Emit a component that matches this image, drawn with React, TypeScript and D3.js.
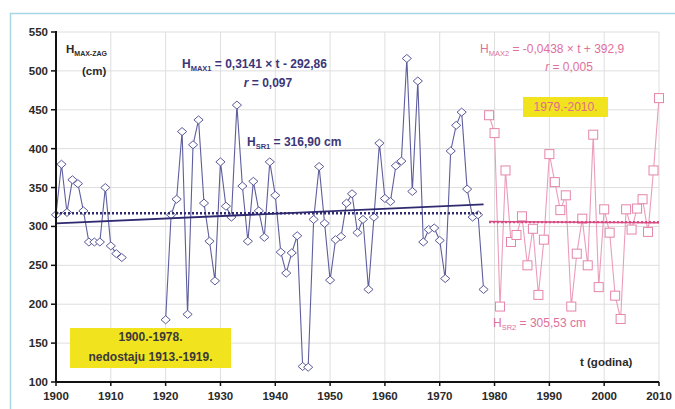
import React from "react";
import * as d3 from "d3";

// Annual maximum water levels at Zagreb (cm)
const yearsEarly = [1900, 1901, 1902, 1903, 1904, 1905, 1906, 1907, 1908, 1909, 1910, 1911, 1912];
const levelsEarly = [315, 380, 318, 360, 355, 320, 280, 280, 280, 350, 275, 265, 260];

const yearsMid = [
  1920, 1921, 1922, 1923, 1924, 1925, 1926, 1927, 1928, 1929,
  1930, 1931, 1932, 1933, 1934, 1935, 1936, 1937, 1938, 1939,
  1940, 1941, 1942, 1943, 1944, 1945, 1946, 1947, 1948, 1949,
  1950, 1951, 1952, 1953, 1954, 1955, 1956, 1957, 1958, 1959,
  1960, 1961, 1962, 1963, 1964, 1965, 1966, 1967, 1968, 1969,
  1970, 1971, 1972, 1973, 1974, 1975, 1976, 1977, 1978,
];
const levelsMid = [
  180, 315, 335, 422, 187, 405, 437, 330, 281, 230,
  383, 326, 312, 456, 352, 281, 358, 320, 286, 383,
  340, 267, 240, 266, 288, 120, 119, 309, 377, 304,
  231, 283, 287, 330, 342, 292, 309, 219, 312, 407,
  336, 332, 378, 384, 516, 345, 487, 280, 296, 298,
  282, 233, 397, 430, 447, 348, 312, 315, 219,
];

const yearsLate = [
  1979, 1980, 1981, 1982, 1983, 1984, 1985, 1986, 1987, 1988,
  1989, 1990, 1991, 1992, 1993, 1994, 1995, 1996, 1997, 1998,
  1999, 2000, 2001, 2002, 2003, 2004, 2005, 2006, 2007, 2008,
  2009, 2010,
];
const levelsLate = [
  443, 420, 197, 372, 280, 289, 313, 250, 297, 212,
  283, 393, 357, 321, 340, 197, 265, 310, 250, 418,
  222, 322, 292, 211, 181, 322, 296, 323, 335, 293,
  372, 465,
];

// Regression and mean for each period
const trend1 = { slope: 0.3141, intercept: -292.86, from: 1900, to: 1978 };
const mean1 = 316.9;
const trend2 = { slope: -0.0438, intercept: 392.9, from: 1979, to: 2010 };
const mean2 = 305.53;

const xTicks = [1900, 1910, 1920, 1930, 1940, 1950, 1960, 1970, 1980, 1990, 2000, 2010];
const yTicks = [100, 150, 200, 250, 300, 350, 400, 450, 500, 550];

const W = 675;
const H = 409;
const FONT = "'Liberation Sans', Arial, sans-serif";
const BLUE_TEXT = "#3c3678";
const PINK_TEXT = "#e0709c";

export default function App() {
  const x = d3.scaleLinear().domain([1900, 2010]).range([56, 659]);
  const y = d3.scaleLinear().domain([100, 550]).range([382, 32]);

  const line = d3
    .line<[number, number]>()
    .x((d) => x(d[0]))
    .y((d) => y(d[1]));

  const early = yearsEarly.map((t, i) => [t, levelsEarly[i]] as [number, number]);
  const mid = yearsMid.map((t, i) => [t, levelsMid[i]] as [number, number]);
  const late = yearsLate.map((t, i) => [t, levelsLate[i]] as [number, number]);
  const blue = [...early, ...mid];

  const trendPts = (tr: typeof trend1): [number, number][] => [
    [tr.from, tr.slope * tr.from + tr.intercept],
    [tr.to, tr.slope * tr.to + tr.intercept],
  ];

  const diamond = (cx: number, cy: number) =>
    `M${cx},${cy - 4}L${cx + 4.6},${cy}L${cx},${cy + 4}L${cx - 4.6},${cy}Z`;

  const x0 = x(1900);
  const x1 = x(2010);
  const yTop = y(550);
  const yBot = y(100);

  return (
    <div style={{ position: "absolute", left: 0, top: 0 }}>
      <svg width={W} height={H} style={{ display: "block", background: "#fff" }} fontFamily={FONT}>
        {/* outer frame */}
        <rect x={10.5} y={13.5} width={700} height={430} fill="none" stroke="#a9d6e4" strokeWidth={1.5} />

        {/* grid */}
        {yTicks.filter((v) => v > 100).map((v) => (
          <line key={"gy" + v} x1={x0} x2={x1} y1={y(v)} y2={y(v)} stroke="#dedede" strokeWidth={1} />
        ))}
        {xTicks.filter((t) => t > 1900).map((t) => (
          <line key={"gx" + t} x1={x(t)} x2={x(t)} y1={yTop} y2={yBot} stroke="#dedede" strokeWidth={1} />
        ))}

        {/* series lines */}
        <path d={line(early) || ""} fill="none" stroke="#5e5e9e" strokeWidth={1.1} />
        <path d={line(mid) || ""} fill="none" stroke="#5e5e9e" strokeWidth={1.1} />
        <path d={line(late) || ""} fill="none" stroke="#eb9dbb" strokeWidth={1.1} />

        {/* markers */}
        {blue.map(([t, v]) => (
          <path key={"d" + t} d={diamond(x(t), y(v))} fill="#fff" stroke="#5a5a9a" strokeWidth={1} />
        ))}
        {late.map(([t, v]) => (
          <rect key={"s" + t} x={x(t) - 4.5} y={y(v) - 4.5} width={9} height={9} fill="#fff" stroke="#e585aa" strokeWidth={1} />
        ))}

        {/* means and trends */}
        <line x1={x(trend1.from)} x2={x(trend1.to) - 3} y1={y(mean1)} y2={y(mean1)} stroke="#2f2a70" strokeWidth={2.4} strokeDasharray="2,2" />
        <path d={line(trendPts(trend1)) || ""} stroke="#2f2a70" strokeWidth={1.8} fill="none" />
        <line x1={x(trend2.from)} x2={x(trend2.to)} y1={y(mean2)} y2={y(mean2)} stroke="#d84c84" strokeWidth={2.2} strokeDasharray="2,2" />
        <path d={line(trendPts(trend2)) || ""} stroke="#d84c84" strokeWidth={1.5} fill="none" />

        {/* axes */}
        <line x1={x0} x2={x0} y1={yTop - 1} y2={yBot} stroke="#111" strokeWidth={2} />
        <line x1={x0} x2={x1} y1={yBot} y2={yBot} stroke="#111" strokeWidth={2} />
        {yTicks.map((v) => (
          <g key={"ty" + v}>
            <line x1={x0 - 5} x2={x0} y1={y(v)} y2={y(v)} stroke="#111" strokeWidth={1.5} />
            <text x={x0 - 8} y={y(v) + 4} textAnchor="end" fontSize={11.5} fontWeight="bold" fill="#2a2a2a">
              {v}
            </text>
          </g>
        ))}
        {xTicks.map((t) => (
          <g key={"tx" + t}>
            <line x1={x(t)} x2={x(t)} y1={yBot} y2={yBot + 4} stroke="#111" strokeWidth={1.5} />
            <text x={x(t)} y={400} textAnchor="middle" fontSize={11.5} fontWeight="bold" fill="#2a2a2a">
              {t}
            </text>
          </g>
        ))}

        {/* axis titles */}
        <text x={66} y={53} fontSize={11.5} fontWeight="bold" fill="#2a2a2a">
          H<tspan fontSize={7} dy={3}>MAX-ZAG</tspan>
        </text>
        <text x={82} y={75} fontSize={11.5} fontWeight="bold" fill="#2a2a2a">(cm)</text>
        <text x={580} y={366} fontSize={11.5} fontWeight="bold" fill="#2a2a2a">t (godina)</text>

        {/* period 1 annotations */}
        <text x={182} y={68} fontSize={12} fontWeight="bold" fill={BLUE_TEXT}>
          H<tspan fontSize={7.5} dy={3}>MAX1</tspan>
          <tspan dy={-3}> = 0,3141 × t - 292,86</tspan>
        </text>
        <text x={268} y={87} textAnchor="middle" fontSize={12} fontWeight="bold" fill={BLUE_TEXT}>
          <tspan fontStyle="italic">r</tspan> = 0,097
        </text>
        <text x={247} y={146} fontSize={12} fontWeight="bold" fill={BLUE_TEXT}>
          H<tspan fontSize={7.5} dy={3}>SR1</tspan>
          <tspan dy={-3}> = 316,90 cm</tspan>
        </text>

        {/* period 2 annotations */}
        <text x={480} y={53} fontSize={12} fill={PINK_TEXT}>
          H<tspan fontSize={7.5} dy={3}>MAX2</tspan>
          <tspan dy={-3}> = -0,0438 × t + 392,9</tspan>
        </text>
        <text x={569} y={71} textAnchor="middle" fontSize={12} fill={PINK_TEXT}>
          <tspan fontStyle="italic">r</tspan> = 0,005
        </text>
        <text x={493} y={327} fontSize={12} fill={PINK_TEXT}>
          H<tspan fontSize={7.5} dy={3}>SR2</tspan>
          <tspan dy={-3}> = 305,53 cm</tspan>
        </text>

        {/* period labels */}
        <rect x={523} y={97} width={85} height={20} fill="#f1e31d" />
        <text x={565.5} y={111} textAnchor="middle" fontSize={12} fill="#e06c8c">1979.-2010.</text>

        <rect x={70} y={328} width={161} height={40} fill="#f1e31d" />
        <text x={150.5} y={341} textAnchor="middle" fontSize={12} fontWeight="bold" fill="#3a3a3a">1900.-1978.</text>
        <text x={150.5} y={361} textAnchor="middle" fontSize={12} fontWeight="bold" fill="#3a3a3a">nedostaju 1913.-1919.</text>
      </svg>
    </div>
  );
}
